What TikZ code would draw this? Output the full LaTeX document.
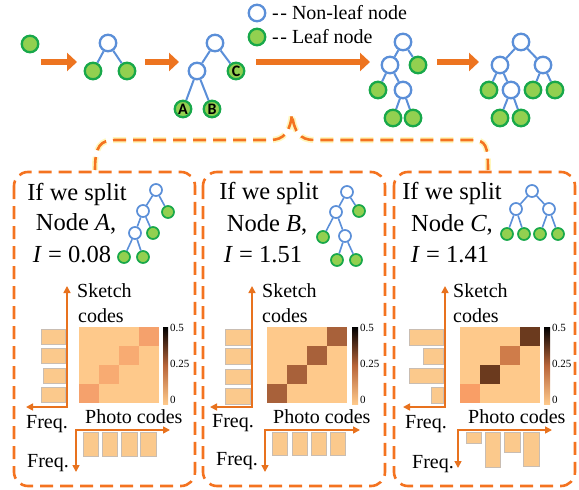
\documentclass[tikz,border=0pt]{standalone}
\usepackage{fontspec}
\setmainfont{Liberation Serif}
\newfontfamily\abcfam{Carlito}
\usetikzlibrary{arrows.meta}
\definecolor{treeblue}{HTML}{5B8FD8}
\definecolor{leafgreen}{HTML}{92D050}
\definecolor{leafedge}{HTML}{18A84A}
\definecolor{bigorange}{HTML}{ED7420}
\definecolor{dashorange}{HTML}{F47320}
\definecolor{axorange}{HTML}{E8721E}
\definecolor{barfill}{HTML}{FBC98C}
\definecolor{barline}{HTML}{C9BDB2}
\definecolor{hmbase}{HTML}{FEC98B}
\definecolor{cbmid}{HTML}{B8653A}
\definecolor{aDiag}{HTML}{F8AB72}
\definecolor{aCorner}{HTML}{F5A16C}
\definecolor{bDiag}{HTML}{A8613A}
\definecolor{cOne}{HTML}{F99E66}
\definecolor{cTwo}{HTML}{6B3A1E}
\definecolor{cThree}{HTML}{CF7C4A}
\definecolor{glow}{HTML}{FFF3A0}
\newcommand\bigtxt{\fontsize{24.5}{28}\selectfont}
\newcommand\labtxt{\fontsize{20}{24}\selectfont}
\newcommand\legtxt{\fontsize{20}{24}\selectfont}
\newcommand\ticktxt{\fontsize{11}{13}\selectfont}
\newcommand\abcfont{\abcfam\bfseries\fontsize{16}{18}\selectfont}
\newcommand\heatmap[5]{%
  \fill[hmbase] (#1,327) rectangle ++(80,76);
  \fill[#2] (#1+60,327) rectangle ++(20,19);
  \fill[#3] (#1+40,346) rectangle ++(20,19);
  \fill[#4] (#1+20,365) rectangle ++(20,19);
  \fill[#5] (#1,384) rectangle ++(20,19);
}
\begin{document}
\begin{tikzpicture}[x=1pt,y=-1pt,
  nl/.style={circle,draw=treeblue,fill=white,line width=2.3pt,minimum size=16.5pt,inner sep=0pt},
  lf/.style={circle,draw=leafedge,fill=leafgreen,line width=2.3pt,minimum size=16.5pt,inner sep=0pt,font=\abcfont},
  snl/.style={nl,line width=1.7pt,minimum size=12pt},
  slf/.style={lf,line width=1.7pt,minimum size=12pt},
  edge/.style={draw=treeblue,line width=2pt},
  sedge/.style={draw=treeblue,line width=1.6pt},
  bigarrow/.style={draw=bigorange,line width=6pt,-{Triangle[width=18pt,length=10pt]}},
  panel/.style={draw=dashorange,line width=2.6pt,dash pattern=on 13pt off 7pt,rounded corners=14pt},
  brace/.style={draw=dashorange,line width=2.6pt,dash pattern=on 13pt off 7pt},
  braceglow/.style={draw=glow,line width=6pt,dash pattern=on 13pt off 7pt,opacity=0.7},
  axisline/.style={draw=axorange,line width=1.6pt,{Triangle[width=7pt,length=7pt]}-{Triangle[width=7pt,length=7pt]}},
  bar/.style={fill=barfill,draw=barline,line width=0.6pt},
  bigt/.style={font=\bigtxt,anchor=base,inner sep=0pt},
  lab/.style={font=\labtxt,anchor=base west,inner sep=0pt},
  leg/.style={font=\legtxt,anchor=base west,inner sep=0pt},
  tick/.style={font=\ticktxt,anchor=west,inner sep=0pt},
]
\useasboundingbox (0,0) rectangle (579,490);

% ---------- top row ----------
\node[lf] (a0) at (30,44) {};

\node[nl] (b0) at (108,43) {};
\node[lf] (b1) at (93,71) {};
\node[lf] (b2) at (127,71) {};
\draw[edge] (b0) -- (b1) (b0) -- (b2);

\node[nl] (c0) at (215,43) {};
\node[nl] (c1) at (197,71) {};
\node[lf] (c2) at (236,71) {C};
\node[lf] (c3) at (183,109) {A};
\node[lf] (c4) at (212,109) {B};
\draw[edge] (c0) -- (c1) (c0) -- (c2) (c1) -- (c3) (c1) -- (c4);

\node[nl] (d0) at (403,42) {};
\node[nl] (d1) at (390,65) {};
\node[lf] (d2) at (418,65) {};
\node[lf] (d3) at (378,90) {};
\node[nl] (d4) at (403,90) {};
\node[lf] (d5) at (393,118) {};
\node[lf] (d6) at (413,118) {};
\draw[edge] (d0) -- (d1) (d0) -- (d2) (d1) -- (d3) (d1) -- (d4) (d4) -- (d5) (d4) -- (d6);

\node[nl] (e0) at (521,42) {};
\node[nl] (e1) at (500,65) {};
\node[nl] (e2) at (543,65) {};
\node[lf] (e3) at (489,90) {};
\node[nl] (e4) at (511,90) {};
\node[lf] (e5) at (533,90) {};
\node[lf] (e6) at (555,90) {};
\node[lf] (e7) at (500,118) {};
\node[lf] (e8) at (521,118) {};
\draw[edge] (e0) -- (e1) (e0) -- (e2) (e1) -- (e3) (e1) -- (e4) (e2) -- (e5) (e2) -- (e6) (e4) -- (e7) (e4) -- (e8);

% legend
\node[nl] (lg1) at (257,13) {};
\node[lf] (lg2) at (257,37) {};
\node[leg] (lt1) at (272,19) {-\kern1.5pt- Non-leaf node};
\node[leg] (lt2) at (272,43) {-\kern1.5pt- Leaf node};

% big arrows
\coordinate (ar1s) at (41,62);  \coordinate (ar1e) at (77,62);
\coordinate (ar2s) at (145,62); \coordinate (ar2e) at (179,62);
\coordinate (ar3s) at (256,62); \coordinate (ar3e) at (370,62);
\coordinate (ar4s) at (437,62); \coordinate (ar4e) at (479,62);
\draw[bigarrow] (ar1s) -- (ar1e);
\draw[bigarrow] (ar2s) -- (ar2e);
\draw[bigarrow] (ar3s) -- (ar3e);
\draw[bigarrow] (ar4s) -- (ar4e);

% ---------- brace ----------
\coordinate (brL) at (95,170);
\coordinate (brTip) at (292,114);
\coordinate (brR) at (488,170);
\draw[braceglow] (brL) .. controls (95,146) and (100,140) .. (116,140) -- (270,140) .. controls (284,140) and (290,132) .. (brTip) .. controls (294,132) and (300,140) .. (314,140) -- (472,140) .. controls (486,140) and (488,146) .. (brR);
\draw[brace] (brL) .. controls (95,146) and (100,140) .. (116,140) -- (270,140) .. controls (284,140) and (290,132) .. (brTip) .. controls (294,132) and (300,140) .. (314,140) -- (472,140) .. controls (486,140) and (488,146) .. (brR);

% ---------- panels ----------
\draw[panel] (14,172) rectangle (195,486);
\draw[panel] (203,172) rectangle (385,486);
\draw[panel] (394,172) rectangle (575,486);

% panel texts
\node[bigt] (t1a) at (77,200) {If we split};
\node[bigt] (t1b) at (76,230) {Node \textit{A},};
\node[bigt] (t1c) at (72,262) {\textit{I} = 0.08};
\node[bigt] (t2a) at (269,199) {If we split};
\node[bigt] (t2b) at (267,231) {Node \textit{B},};
\node[bigt] (t2c) at (263,262) {\textit{I} = 1.51};
\node[bigt] (t3a) at (452,199) {If we split};
\node[bigt] (t3b) at (452,231) {Node \textit{C},};
\node[bigt] (t3c) at (450,262) {\textit{I} = 1.41};

% mini tree 1
\node[snl] (p0) at (156,190) {};
\node[snl] (p1) at (143,211) {};
\node[slf] (p2) at (168,212) {};
\node[snl] (p3) at (135,233) {};
\node[slf] (p4) at (153,233) {};
\node[slf] (p5) at (124,257) {};
\node[slf] (p6) at (143,257) {};
\draw[sedge] (p0) -- (p1) (p0) -- (p2) (p1) -- (p3) (p1) -- (p4) (p3) -- (p5) (p3) -- (p6);

% mini tree 2
\node[snl] (q0) at (347,192) {};
\node[snl] (q1) at (336,212) {};
\node[slf] (q2) at (359,211) {};
\node[slf] (q3) at (323,237) {};
\node[snl] (q4) at (345,236) {};
\node[slf] (q5) at (337,260) {};
\node[slf] (q6) at (356,260) {};
\draw[sedge] (q0) -- (q1) (q0) -- (q2) (q1) -- (q3) (q1) -- (q4) (q4) -- (q5) (q4) -- (q6);

% mini tree 3
\node[snl] (u0) at (532,191) {};
\node[snl] (u1) at (516,209) {};
\node[snl] (u2) at (549,209) {};
\node[slf] (u3) at (507,234) {};
\node[slf] (u4) at (524,234) {};
\node[slf] (u5) at (540,234) {};
\node[slf] (u6) at (558,234) {};
\draw[sedge] (u0) -- (u1) (u0) -- (u2) (u1) -- (u3) (u1) -- (u4) (u2) -- (u5) (u2) -- (u6);

% ---------- panel 1 charts ----------
\foreach \xa/\ya/\yb in {41/329/344, 41/348/363, 43/368/383, 41/387/402}
  \draw[bar] (\xa,\ya) rectangle (65,\yb);
\coordinate (k1) at (67,407); \coordinate (k1u) at (67,286); \coordinate (k1l) at (26,407);
\draw[axisline] (k1u) -- (k1) -- (k1l);
\node[lab] (s1a) at (77,297) {Sketch};
\node[lab] (s1b) at (78,322) {codes};
\heatmap{79}{aCorner}{aDiag}{aDiag}{aCorner}
\shade[top color=black,bottom color=hmbase,middle color=cbmid] (163,327) rectangle (168,404);
\node[tick] (n1a) at (170,328) {0.5};
\node[tick] (n1b) at (170,364) {0.25};
\node[tick] (n1c) at (170,400) {0};
\node[lab] (f1a) at (26,428) {Freq.};
\node[lab] (h1) at (85,423) {Photo codes};
\foreach \xa/\xb in {83/98, 102/117, 121/137, 140/156}
  \draw[bar] (\xa,432) rectangle (\xb,456);
\coordinate (m1) at (76,430); \coordinate (m1r) at (170,430); \coordinate (m1d) at (76,472);
\draw[axisline] (m1r) -- (m1) -- (m1d);
\node[lab] (f1b) at (27,467) {Freq.};

% ---------- panel 2 charts ----------
\foreach \xa/\ya/\yb in {225/329/345, 225/348/364, 225/369/384, 225/388/404}
  \draw[bar] (\xa,\ya) rectangle (250,\yb);
\coordinate (k2) at (252,407); \coordinate (k2u) at (252,286); \coordinate (k2l) at (210,407);
\draw[axisline] (k2u) -- (k2) -- (k2l);
\node[lab] (s2a) at (262,297) {Sketch};
\node[lab] (s2b) at (262,322) {codes};
\heatmap{267}{bDiag}{bDiag}{bDiag}{bDiag}
\shade[top color=black,bottom color=hmbase,middle color=cbmid] (352,327) rectangle (358,404);
\node[tick] (n2a) at (360,328) {0.5};
\node[tick] (n2b) at (360,364) {0.25};
\node[tick] (n2c) at (360,400) {0};
\node[lab] (f2a) at (212,427) {Freq.};
\node[lab] (h2) at (273,423) {Photo codes};
\foreach \xa/\xb in {272/287, 292/307, 311/326, 330/345}
  \draw[bar] (\xa,432) rectangle (\xb,455);
\coordinate (m2) at (265,430); \coordinate (m2r) at (360,430); \coordinate (m2d) at (265,472);
\draw[axisline] (m2r) -- (m2) -- (m2d);
\node[lab] (f2b) at (216,465) {Freq.};

% ---------- panel 3 charts ----------
\foreach \xa/\ya/\yb in {409/329/345, 423/348/364, 409/368/383, 431/387/403}
  \draw[bar] (\xa,\ya) rectangle (443,\yb);
\coordinate (k3) at (445,407); \coordinate (k3u) at (445,286); \coordinate (k3l) at (403,407);
\draw[axisline] (k3u) -- (k3) -- (k3l);
\node[lab] (s3a) at (453,297) {Sketch};
\node[lab] (s3b) at (453,322) {codes};
\heatmap{460}{cTwo}{cThree}{cTwo}{cOne}
\shade[top color=black,bottom color=hmbase,middle color=cbmid] (544,327) rectangle (550,404);
\node[tick] (n3a) at (552,328) {0.5};
\node[tick] (n3b) at (552,364) {0.25};
\node[tick] (n3c) at (552,400) {0};
\node[lab] (f3a) at (405,428) {Freq.};
\node[lab] (h3) at (468,423) {Photo codes};
\foreach \xa/\xb/\yb in {466/481/443, 485/500/467, 504/520/452, 523/539/466}
  \draw[bar] (\xa,432) rectangle (\xb,\yb);
\coordinate (m3) at (458,430); \coordinate (m3r) at (552,430); \coordinate (m3d) at (458,468);
\draw[axisline] (m3r) -- (m3) -- (m3d);
\node[lab] (f3b) at (412,468) {Freq.};
\end{tikzpicture}
\end{document}
